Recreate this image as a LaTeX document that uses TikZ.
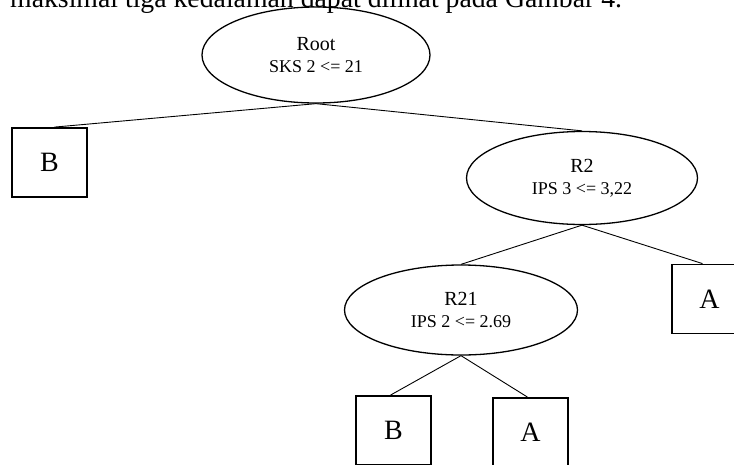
\documentclass[tikz,border=0pt]{standalone}
\usepackage{fontspec}
\setmainfont{Liberation Serif}
\usetikzlibrary{shapes.geometric}
\begin{document}
\begin{tikzpicture}[x=1pt,y=-1pt,
  every node/.style={inner sep=0pt},
  split/.style={draw, ellipse, line width=1.3pt, align=center,
    font=\fontsize{18}{22}\selectfont},
  leaf/.style={draw, rectangle, line width=1.8pt,
    minimum width=75pt, minimum height=69pt,
    font=\fontsize{28}{30}\selectfont},
  edge/.style={line width=0.9pt}]
\clip (0,0) rectangle (734,464);
% running text of the page above the figure
\node[anchor=base west, font=\fontsize{27.75}{30}\selectfont] (cap) at (10,7)
  {maksimal tiga kedalaman dapat dilihat pada Gambar 4.};
% decision nodes
\node[split, minimum width=228pt, minimum height=96pt] (root) at (316,55)
  {{\fontsize{20}{22}\selectfont Root}\\SKS 2 <= 21};
\node[split, minimum width=231pt, minimum height=93pt] (R2) at (582,178)
  {{\fontsize{20}{22}\selectfont R2}\\IPS 3 <= 3,22};
\node[split, minimum width=233pt, minimum height=90pt] (R21) at (461,310)
  {{\fontsize{20}{22}\selectfont R21}\\IPS 2 <= 2.69};
% leaves
\node[leaf] (B1) at (49.5,162.5) {B};
\node[leaf] (A1) at (709.5,299) {A};
\node[leaf] (B2) at (393.5,430.5) {B};
\node[leaf] (A2) at (530.5,432.5) {A};
% branches
\draw[edge] (root.north) -- ++(0,-7);
\draw[edge] (root.south) -- ([xshift=5pt]B1.north);
\draw[edge] (root.south) -- (R2.north);
\draw[edge] (R2.south) -- (R21.north);
\draw[edge] (R2.south) -- ([xshift=-7pt]A1.north);
\draw[edge] (R21.south) -- ([xshift=-3pt]B2.north);
\draw[edge] (R21.south) -- ([xshift=-3pt]A2.north);
\end{tikzpicture}
\end{document}
